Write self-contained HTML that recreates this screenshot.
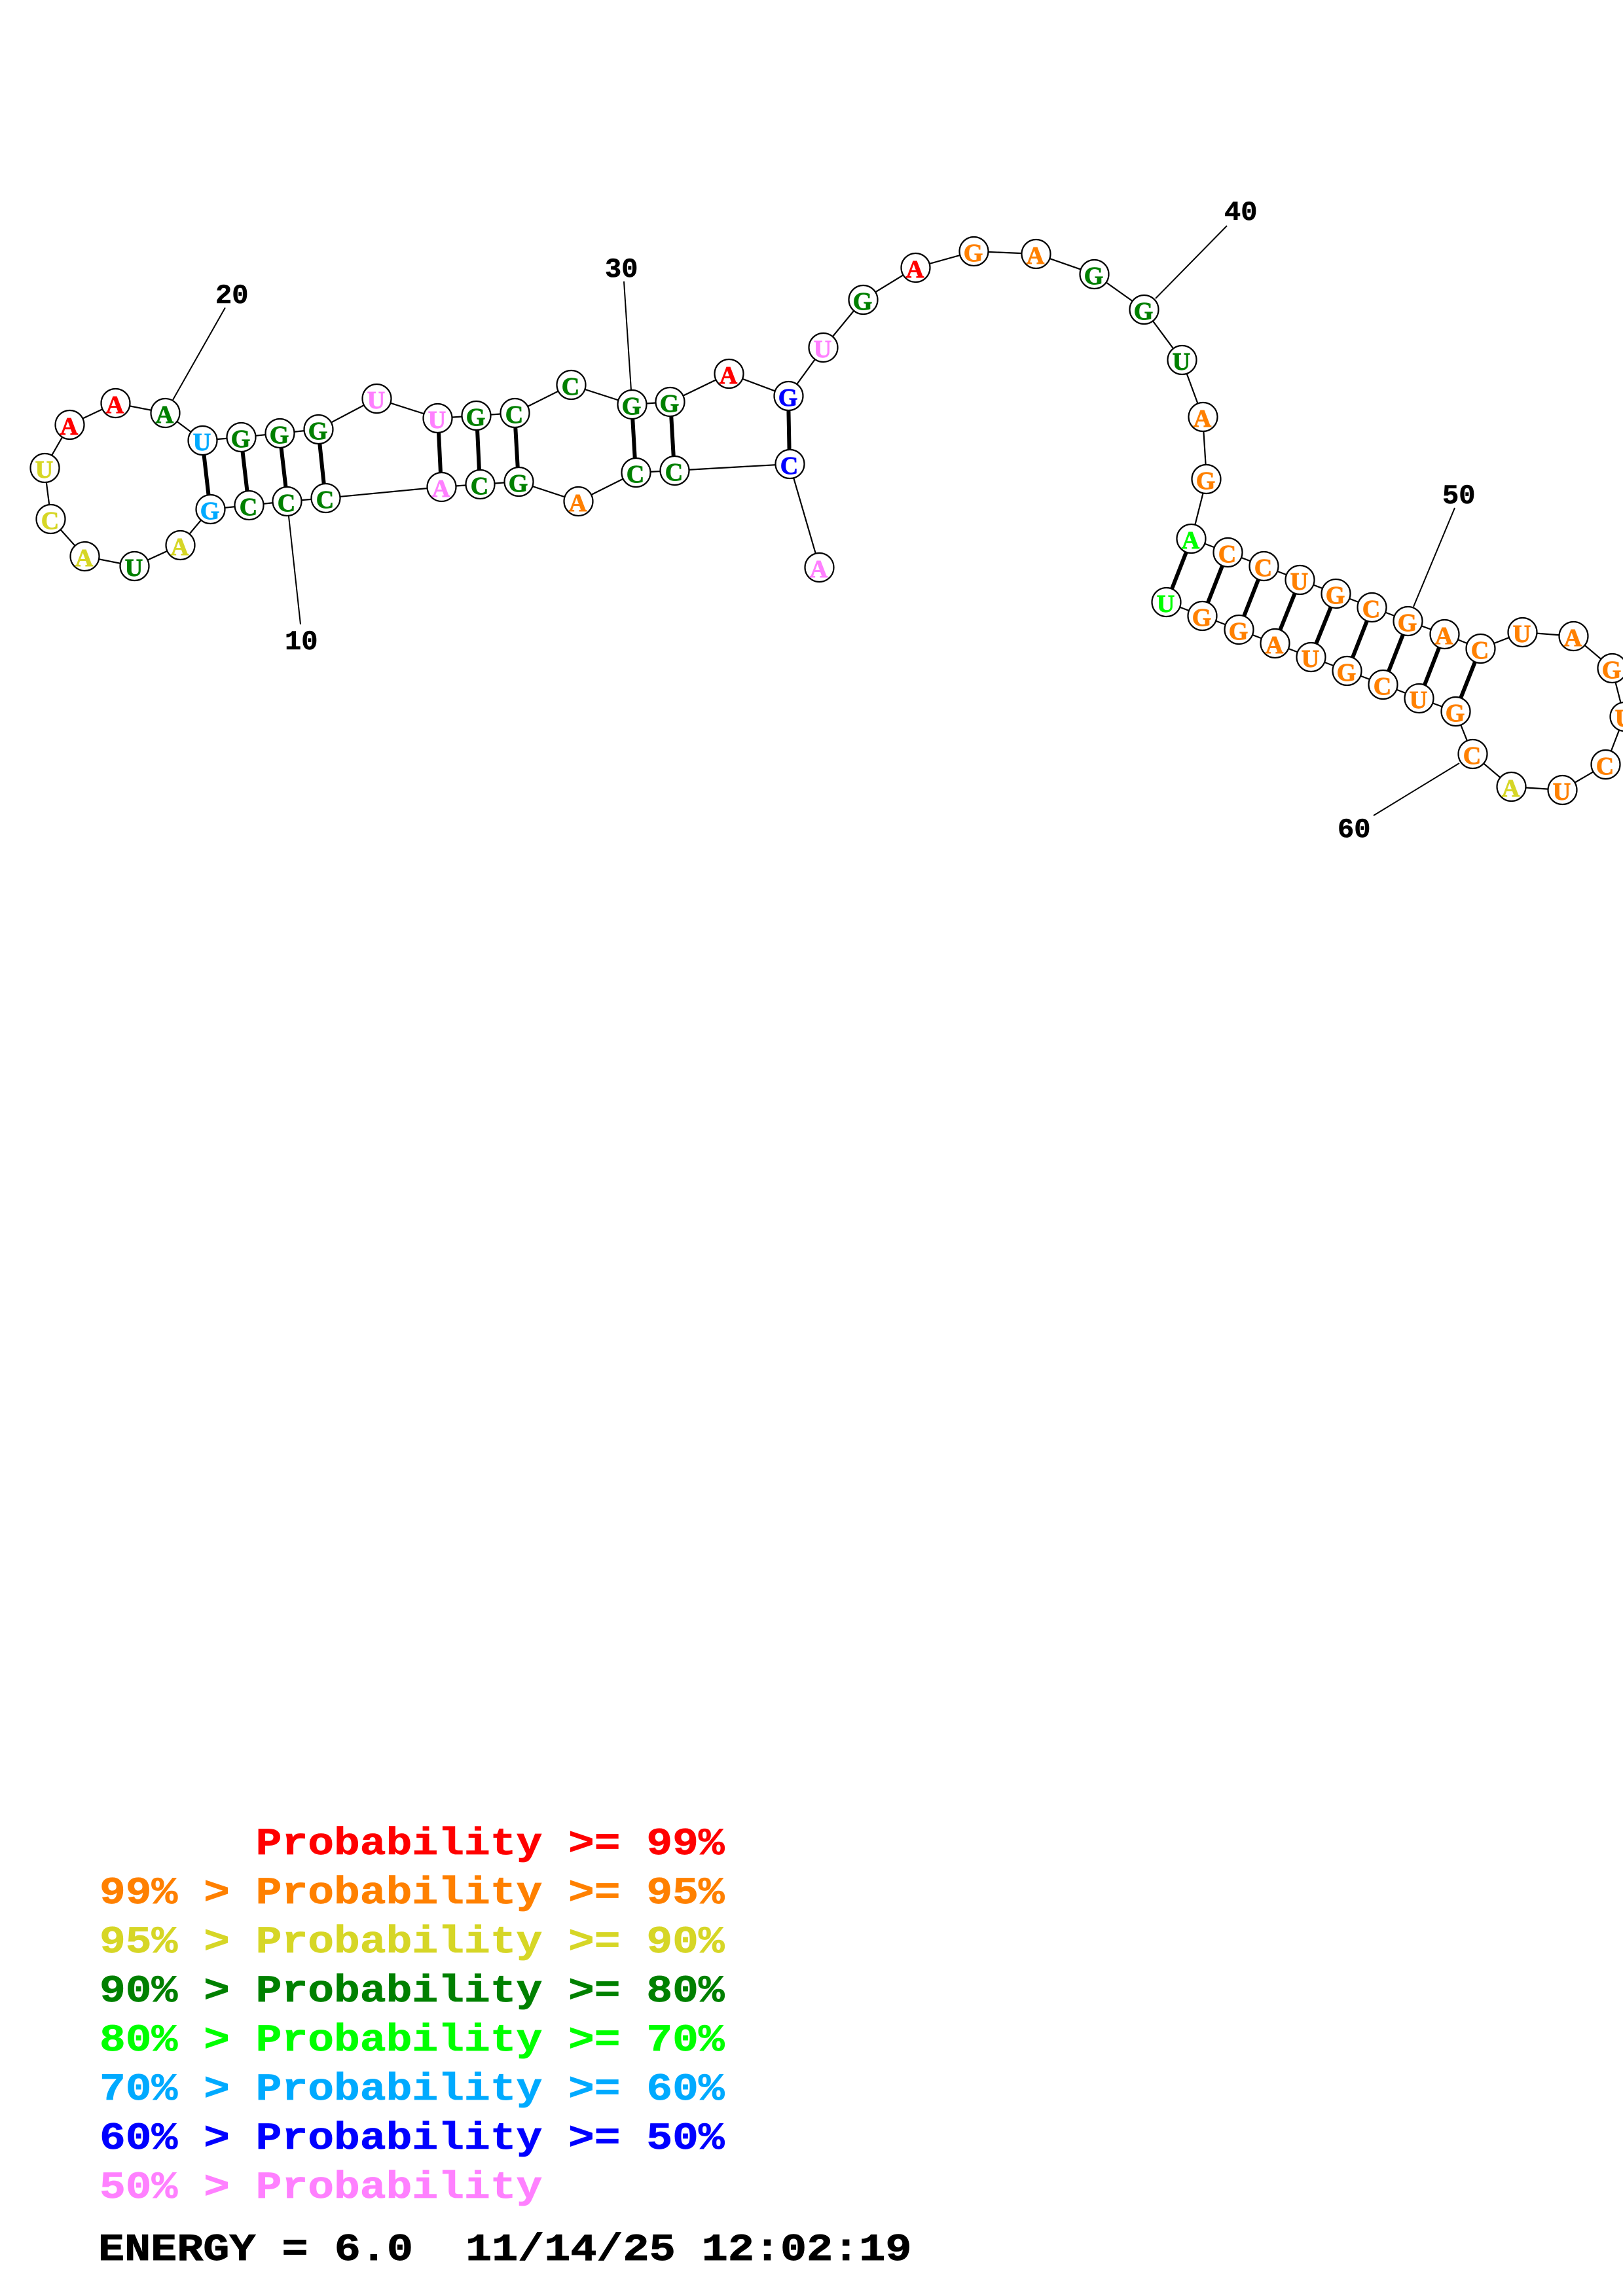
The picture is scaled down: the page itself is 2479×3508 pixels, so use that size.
<!DOCTYPE html>
<html><head><meta charset="utf-8"><style>
html,body{margin:0;padding:0;background:#fff}
svg{display:block}
text{font-family:"Liberation Mono",monospace;font-weight:bold}
.n circle{fill:#fff;stroke:#000;stroke-width:2.2}
.n text{font-family:"Liberation Serif",serif;font-size:38px;text-anchor:middle;stroke-width:.9}
.t{font-size:42px;fill:#000;stroke:#000;stroke-width:.6}
.l{font-size:66.3px;white-space:pre;stroke-width:.8}
.e{font-size:66.8px;white-space:pre;fill:#000;stroke:#000;stroke-width:1}
.r{fill:#f00;stroke:#f00}.o{fill:#ff8000;stroke:#ff8000}.y{fill:#d6d626;stroke:#d6d626}.g{fill:#008000;stroke:#008000}.m{fill:#0f0;stroke:#0f0}.s{fill:#00aaff;stroke:#00aaff}.b{fill:#00f;stroke:#00f}.p{fill:#ff80ff;stroke:#ff80ff}
</style></head><body>
<svg xmlns="http://www.w3.org/2000/svg" width="2479" height="3508" viewBox="0 0 2479 3508">
<rect width="2479" height="3508" fill="#fff"/>
<polyline fill="none" stroke="#000" stroke-width="2.2" points="1252,867 1206,709 1030,719 971,722 883,766 792,736 733,740 674,744 497,761 439,766 380,772 321,778 275,833 205,865 129,850 78,793 68,715 106,649 176,616 253,631 309,673 368,668 427,662 486,656 575,609 669,639 728,635 786,631 872,588 965,618 1024,614 1113,571 1204,605 1258,531 1318,458 1398,409 1488,384 1583,388 1672,419 1748,473 1805,550 1837,637 1843,732 1820,823 1875,844 1930,865 1986,886 2041,907 2096,928 2151,949 2206,969 2261,991 2326,966 2404,972 2462,1021 2481,1095 2453,1168 2386,1207 2308,1202 2249,1152 2223,1087 2168,1067 2113,1046 2058,1025 2002,1004 1947,983 1892,962 1837,941 1782,920"/>
<g stroke="#000" stroke-width="6" fill="none">
<line x1="309" y1="673" x2="321" y2="778"/><line x1="368" y1="668" x2="380" y2="772"/><line x1="427" y1="662" x2="439" y2="766"/><line x1="486" y1="656" x2="497" y2="761"/>
<line x1="669" y1="639" x2="674" y2="744"/><line x1="728" y1="635" x2="733" y2="740"/><line x1="786" y1="631" x2="792" y2="736"/>
<line x1="965" y1="618" x2="971" y2="722"/><line x1="1024" y1="614" x2="1030" y2="719"/><line x1="1204" y1="605" x2="1206" y2="709"/>
<line x1="1820" y1="823" x2="1782" y2="920"/><line x1="1875" y1="844" x2="1837" y2="941"/><line x1="1930" y1="865" x2="1892" y2="962"/><line x1="1986" y1="886" x2="1947" y2="983"/><line x1="2041" y1="907" x2="2002" y2="1004"/><line x1="2096" y1="928" x2="2058" y2="1025"/><line x1="2151" y1="949" x2="2113" y2="1046"/><line x1="2206" y1="969" x2="2168" y2="1067"/><line x1="2261" y1="991" x2="2223" y2="1087"/>
</g>
<g stroke="#000" stroke-width="2" fill="none">
<line x1="441" y1="789" x2="459" y2="954"/><line x1="264" y1="611" x2="344" y2="470"/><line x1="964" y1="596" x2="953" y2="430"/><line x1="1765" y1="456" x2="1874" y2="345"/><line x1="2159" y1="927" x2="2222" y2="776"/><line x1="2229" y1="1166" x2="2098" y2="1246"/>
</g>
<g class="n" transform="translate(1.5,0)">
<g transform="translate(1250,867)"><circle r="22"/><text class="p" x="-1" y="15">A</text></g>
<g transform="translate(1205,709)"><circle r="22"/><text class="b" x="-1" y="15">C</text></g>
<g transform="translate(1029,719)"><circle r="22"/><text class="g" x="-1" y="15">C</text></g>
<g transform="translate(970,722)"><circle r="22"/><text class="g" x="-1" y="15">C</text></g>
<g transform="translate(882,766)"><circle r="22"/><text class="o" x="-1" y="15">A</text></g>
<g transform="translate(791,736)"><circle r="22"/><text class="g" x="-1" y="15">G</text></g>
<g transform="translate(732,740)"><circle r="22"/><text class="g" x="-1" y="15">C</text></g>
<g transform="translate(673,744)"><circle r="22"/><text class="p" x="-1" y="15">A</text></g>
<g transform="translate(496,761)"><circle r="22"/><text class="g" x="-1" y="15">C</text></g>
<g transform="translate(437,766)"><circle r="22"/><text class="g" x="-1" y="15">C</text></g>
<g transform="translate(379,772)"><circle r="22"/><text class="g" x="-1" y="15">C</text></g>
<g transform="translate(320,778)"><circle r="22"/><text class="s" x="-1" y="15">G</text></g>
<g transform="translate(274,833)"><circle r="22"/><text class="y" x="-1" y="15">A</text></g>
<g transform="translate(204,865)"><circle r="22"/><text class="g" x="-1" y="15">U</text></g>
<g transform="translate(128,850)"><circle r="22"/><text class="y" x="-1" y="15">A</text></g>
<g transform="translate(76,793)"><circle r="22"/><text class="y" x="-1" y="15">C</text></g>
<g transform="translate(67,715)"><circle r="22"/><text class="y" x="-1" y="15">U</text></g>
<g transform="translate(105,649)"><circle r="22"/><text class="r" x="-1" y="15">A</text></g>
<g transform="translate(175,616)"><circle r="22"/><text class="r" x="-1" y="15">A</text></g>
<g transform="translate(251,631)"><circle r="22"/><text class="g" x="-1" y="15">A</text></g>
<g transform="translate(308,673)"><circle r="22"/><text class="s" x="-1" y="15">U</text></g>
<g transform="translate(367,668)"><circle r="22"/><text class="g" x="-1" y="15">G</text></g>
<g transform="translate(426,662)"><circle r="22"/><text class="g" x="-1" y="15">G</text></g>
<g transform="translate(485,656)"><circle r="22"/><text class="g" x="-1" y="15">G</text></g>
<g transform="translate(574,609)"><circle r="22"/><text class="p" x="-1" y="15">U</text></g>
<g transform="translate(667,639)"><circle r="22"/><text class="p" x="-1" y="15">U</text></g>
<g transform="translate(726,635)"><circle r="22"/><text class="g" x="-1" y="15">G</text></g>
<g transform="translate(785,631)"><circle r="22"/><text class="g" x="-1" y="15">C</text></g>
<g transform="translate(871,588)"><circle r="22"/><text class="g" x="-1" y="15">C</text></g>
<g transform="translate(964,618)"><circle r="22"/><text class="g" x="-1" y="15">G</text></g>
<g transform="translate(1022,614)"><circle r="22"/><text class="g" x="-1" y="15">G</text></g>
<g transform="translate(1112,571)"><circle r="22"/><text class="r" x="-1" y="15">A</text></g>
<g transform="translate(1203,605)"><circle r="22"/><text class="b" x="-1" y="15">G</text></g>
<g transform="translate(1256,531)"><circle r="22"/><text class="p" x="-1" y="15">U</text></g>
<g transform="translate(1317,458)"><circle r="22"/><text class="g" x="-1" y="15">G</text></g>
<g transform="translate(1397,409)"><circle r="22"/><text class="r" x="-1" y="15">A</text></g>
<g transform="translate(1486,384)"><circle r="22"/><text class="o" x="-1" y="15">G</text></g>
<g transform="translate(1581,388)"><circle r="22"/><text class="o" x="-1" y="15">A</text></g>
<g transform="translate(1670,419)"><circle r="22"/><text class="g" x="-1" y="15">G</text></g>
<g transform="translate(1746,473)"><circle r="22"/><text class="g" x="-1" y="15">G</text></g>
<g transform="translate(1804,550)"><circle r="22"/><text class="g" x="-1" y="15">U</text></g>
<g transform="translate(1836,637)"><circle r="22"/><text class="o" x="-1" y="15">A</text></g>
<g transform="translate(1841,732)"><circle r="22"/><text class="o" x="-1" y="15">G</text></g>
<g transform="translate(1818,823)"><circle r="22"/><text class="m" x="-1" y="15">A</text></g>
<g transform="translate(1874,844)"><circle r="22"/><text class="o" x="-1" y="15">C</text></g>
<g transform="translate(1929,865)"><circle r="22"/><text class="o" x="-1" y="15">C</text></g>
<g transform="translate(1984,886)"><circle r="22"/><text class="o" x="-1" y="15">U</text></g>
<g transform="translate(2039,907)"><circle r="22"/><text class="o" x="-1" y="15">G</text></g>
<g transform="translate(2094,928)"><circle r="22"/><text class="o" x="-1" y="15">C</text></g>
<g transform="translate(2149,949)"><circle r="22"/><text class="o" x="-1" y="15">G</text></g>
<g transform="translate(2205,969)"><circle r="22"/><text class="o" x="-1" y="15">A</text></g>
<g transform="translate(2260,991)"><circle r="22"/><text class="o" x="-1" y="15">C</text></g>
<g transform="translate(2324,966)"><circle r="22"/><text class="o" x="-1" y="15">U</text></g>
<g transform="translate(2402,972)"><circle r="22"/><text class="o" x="-1" y="15">A</text></g>
<g transform="translate(2461,1021)"><circle r="22"/><text class="o" x="-1" y="15">G</text></g>
<g transform="translate(2480,1095)"><circle r="22"/><text class="o" x="-1" y="15">U</text></g>
<g transform="translate(2451,1168)"><circle r="22"/><text class="o" x="-1" y="15">C</text></g>
<g transform="translate(2385,1207)"><circle r="22"/><text class="o" x="-1" y="15">U</text></g>
<g transform="translate(2307,1202)"><circle r="22"/><text class="y" x="-1" y="15">A</text></g>
<g transform="translate(2248,1152)"><circle r="22"/><text class="o" x="-1" y="15">C</text></g>
<g transform="translate(2222,1087)"><circle r="22"/><text class="o" x="-1" y="15">G</text></g>
<g transform="translate(2166,1067)"><circle r="22"/><text class="o" x="-1" y="15">U</text></g>
<g transform="translate(2111,1046)"><circle r="22"/><text class="o" x="-1" y="15">C</text></g>
<g transform="translate(2056,1025)"><circle r="22"/><text class="o" x="-1" y="15">G</text></g>
<g transform="translate(2001,1004)"><circle r="22"/><text class="o" x="-1" y="15">U</text></g>
<g transform="translate(1946,983)"><circle r="22"/><text class="o" x="-1" y="15">A</text></g>
<g transform="translate(1891,962)"><circle r="22"/><text class="o" x="-1" y="15">G</text></g>
<g transform="translate(1835,941)"><circle r="22"/><text class="o" x="-1" y="15">G</text></g>
<g transform="translate(1780,920)"><circle r="22"/><text class="m" x="-1" y="15">U</text></g>
</g>
<text class="t" x="435" y="992">10</text>
<text class="t" x="329" y="463">20</text>
<text class="t" x="924" y="423">30</text>
<text class="t" x="1870" y="336">40</text>
<text class="t" x="2203" y="769">50</text>
<text class="t" x="2043" y="1279">60</text>
<g transform="translate(152,0)">
<text class="l r" transform="translate(0,2833) scale(1,.88)" xml:space="preserve">      Probability &gt;= 99%</text>
<text class="l o" transform="translate(0,2908) scale(1,.88)" xml:space="preserve">99% &gt; Probability &gt;= 95%</text>
<text class="l y" transform="translate(0,2983) scale(1,.88)" xml:space="preserve">95% &gt; Probability &gt;= 90%</text>
<text class="l g" transform="translate(0,3058) scale(1,.88)" xml:space="preserve">90% &gt; Probability &gt;= 80%</text>
<text class="l m" transform="translate(0,3133) scale(1,.88)" xml:space="preserve">80% &gt; Probability &gt;= 70%</text>
<text class="l s" transform="translate(0,3208) scale(1,.88)" xml:space="preserve">70% &gt; Probability &gt;= 60%</text>
<text class="l b" transform="translate(0,3283) scale(1,.88)" xml:space="preserve">60% &gt; Probability &gt;= 50%</text>
<text class="l p" transform="translate(0,3358) scale(1,.88)" xml:space="preserve">50% &gt; Probability</text>
<text class="e" transform="translate(-2,3453) scale(1,.88)" xml:space="preserve">ENERGY = 6.0  11/14/25 12:02:19</text>
</g>
</svg>
</body></html>
